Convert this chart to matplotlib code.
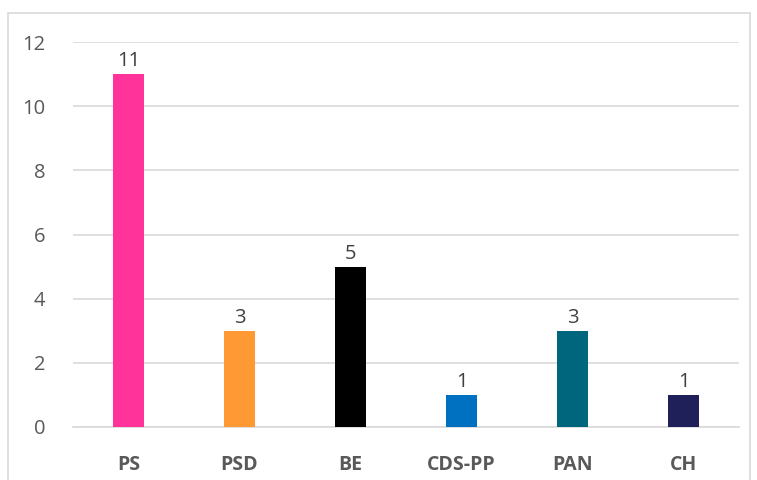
import matplotlib
matplotlib.use("Agg")
import matplotlib.pyplot as plt
from matplotlib.patches import Rectangle

categories = ["PS", "PSD", "BE", "CDS-PP", "PAN", "CH"]
values = [11, 3, 5, 1, 3, 1]
colors = ["#FF3399", "#FF9933", "#000000", "#0070C0", "#00667D", "#1F1F5A"]
yticks = [0, 2, 4, 6, 8, 10, 12]

plt.rcParams['font.family'] = ['Open Sans', 'DejaVu Sans']
txt = "#595959"

fig = plt.figure(figsize=(7.57, 4.8), dpi=100)
ax = fig.add_axes([73/757, 1-427/480, 666/757, 385/480])

x = list(range(len(categories)))
bars = ax.bar(x, values, width=0.28, color=colors, zorder=3)
for xi, v in zip(x, values):
    ax.annotate(str(v), (xi, v), xytext=(0, 2), textcoords="offset points",
                ha="center", va="bottom", fontsize=14.5, color="#404040")

ax.set_xlim(-0.5, len(categories) - 0.5)
ax.set_ylim(0, 12)
ax.set_yticks(yticks)
ax.set_yticklabels([str(t) for t in yticks], fontsize=14.5, color=txt)
ax.set_xticks(x)
ax.set_xticklabels(categories, fontsize=14, fontweight="bold", color=txt)
ax.tick_params(axis="both", length=0)
ax.tick_params(axis="y", pad=20)
ax.tick_params(axis="x", pad=20)
ax.grid(axis="y", color="#D9D9D9", linewidth=1.2, zorder=0)
for s in ["top", "right", "left"]:
    ax.spines[s].set_visible(False)
ax.spines["bottom"].set_color("#D9D9D9")
ax.spines["bottom"].set_linewidth(1.2)

fig.patches.append(Rectangle((8/757, -0.01), (750-8)/757, 1 - 13/480 + 0.01,
                             transform=fig.transFigure, fill=False,
                             edgecolor="#D9D9D9", linewidth=1.2))

fig.savefig("out.png", dpi=100)
